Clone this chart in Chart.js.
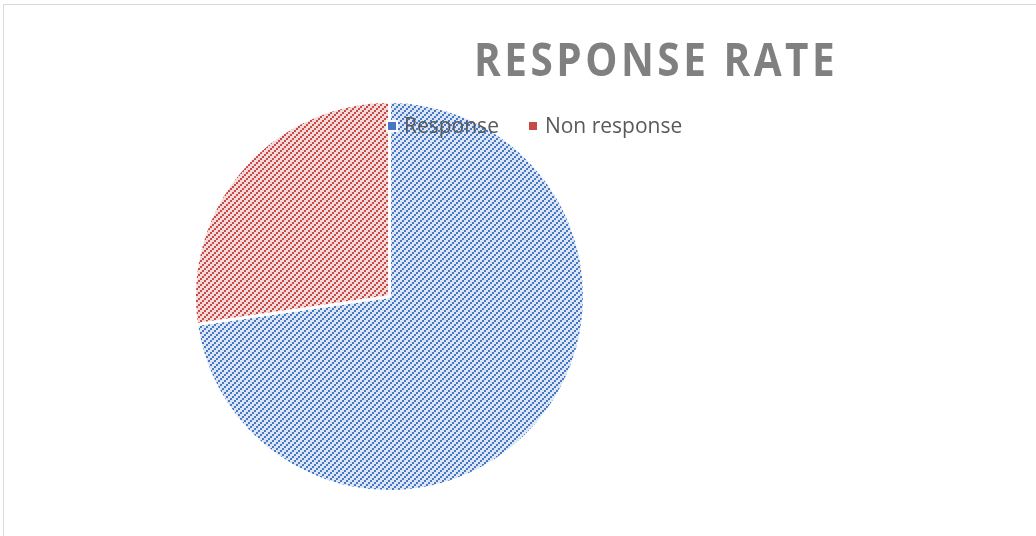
<!DOCTYPE html>
<html>
<head>
<meta charset="utf-8">
<script src="https://cdn.jsdelivr.net/npm/chart.js@4/dist/chart.umd.min.js"></script>
<style>
  html, body { margin: 0; padding: 0; background: #fff; }
  #wrap { position: relative; width: 1036px; height: 536px; overflow: hidden; }
  #frame { position: absolute; left: 3px; top: 4px; width: 1040px; height: 540px;
           border: 1px solid #d9d9d9; box-sizing: border-box; }
  #chart { position: absolute; left: 0; top: 0; }
  #title { position: absolute; left: 474px; top: 29px; font-family: "Open Sans", sans-serif;
           font-weight: bold; font-size: 46px; letter-spacing: 4px; color: #808080;
           line-height: 58px; white-space: nowrap; transform: scaleX(0.88); transform-origin: left top; }
  #legend { position: absolute; left: 388px; top: 111px; font-family: "Open Sans", sans-serif;
            font-size: 21px; color: #595959; white-space: nowrap; }
  #legend span.item { display: inline-block; margin-right: 30px; }
  #legend span.box { display: inline-block; width: 8px; height: 8px; margin-right: 8px;
                     vertical-align: 3px; outline: 2px solid #fff; }
</style>
</head>
<body>
<div id="wrap">
  <div id="frame"></div>
  <canvas id="chart" width="1036" height="536"></canvas>
  <div id="title">RESPONSE RATE</div>
  <div id="legend"></div>
</div>
<script>
// data
const labels = ['Response', 'Non response'];
const values = [72.7, 27.3];
const darkColors = ['#4677c6', '#c84a48'];
const lightColors = ['#dce6f4', '#f4dbda'];

// upward diagonal hatch (stepped 2px blocks) like the office pattern fill
function hatch(dark, light) {
  const n = 6;
  const c = document.createElement('canvas');
  c.width = n; c.height = n;
  const g = c.getContext('2d');
  g.fillStyle = light;
  g.fillRect(0, 0, n, n);
  g.fillStyle = dark;
  g.fillRect(4, 0, 2, 2);
  g.fillRect(2, 2, 2, 2);
  g.fillRect(0, 4, 2, 2);
  return g.createPattern(c, 'repeat');
}

const ctx = document.getElementById('chart').getContext('2d');
const fills = darkColors.map((d, i) => hatch(d, lightColors[i]));

const chart = new Chart(ctx, {
  type: 'pie',
  data: {
    labels: labels,
    datasets: [{
      data: values,
      backgroundColor: fills,
      borderColor: '#ffffff',
      borderWidth: 3
    }]
  },
  options: {
    responsive: false,
    animation: false,
    layout: { padding: { left: 193, right: 450, top: 100, bottom: 43 } },
    plugins: {
      legend: { display: false },
      tooltip: { enabled: false }
    }
  }
});

// legend built from the same arrays
const leg = document.getElementById('legend');
labels.forEach((l, i) => {
  const item = document.createElement('span');
  item.className = 'item';
  const box = document.createElement('span');
  box.className = 'box';
  box.style.background = darkColors[i];
  item.appendChild(box);
  item.appendChild(document.createTextNode(l));
  leg.appendChild(item);
});
</script>
</body>
</html>
